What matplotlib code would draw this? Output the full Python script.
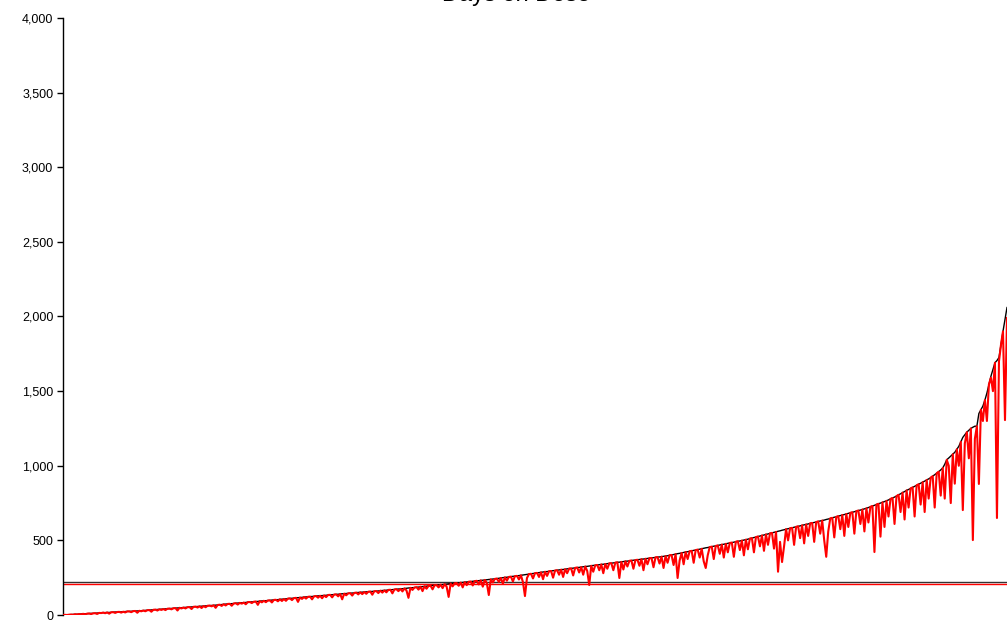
import matplotlib
matplotlib.use("Agg")
import matplotlib.pyplot as plt
from matplotlib.ticker import FuncFormatter

title = "Days on Dose"

# sorted reference series (black)
black_values = [
    0, 1, 2, 2, 3, 4, 5, 5, 6, 7,
    8, 8, 9, 10, 11, 11, 12, 13, 14, 15,
    16, 16, 17, 17, 18, 19, 20, 20, 21, 21,
    22, 23, 24, 24, 25, 26, 27, 27, 28, 29,
    30, 31, 32, 33, 34, 35, 36, 37, 38, 39,
    40, 41, 42, 43, 44, 45, 46, 47, 48, 49,
    50, 51, 52, 53, 54, 55, 56, 57, 58, 59,
    60, 61, 62, 63, 64, 65, 66, 67, 69, 70,
    72, 73, 74, 75, 76, 77, 79, 80, 81, 82,
    83, 84, 86, 87, 88, 89, 90, 91, 93, 94,
    95, 96, 97, 98, 100, 101, 102, 103, 105, 106,
    107, 108, 110, 111, 112, 113, 115, 116, 117, 118,
    120, 121, 122, 123, 124, 125, 127, 128, 129, 130,
    131, 132, 134, 135, 136, 137, 138, 139, 141, 142,
    143, 144, 145, 146, 147, 148, 150, 151, 152, 153,
    154, 155, 156, 157, 158, 159, 160, 161, 163, 164,
    165, 166, 168, 169, 170, 171, 173, 174, 175, 176,
    178, 179, 181, 182, 183, 184, 186, 187, 189, 190,
    192, 193, 195, 196, 198, 199, 200, 201, 203, 204,
    206, 207, 209, 210, 212, 213, 214, 215, 217, 218,
    220, 221, 223, 224, 226, 227, 229, 230, 232, 233,
    235, 236, 238, 239, 241, 242, 244, 246, 248, 250,
    252, 253, 255, 257, 259, 260, 262, 264, 266, 268,
    270, 272, 274, 276, 278, 280, 282, 284, 286, 288,
    290, 291, 293, 295, 297, 298, 300, 302, 304, 305,
    307, 309, 311, 312, 314, 316, 318, 319, 321, 323,
    325, 326, 328, 330, 332, 333, 335, 337, 339, 340,
    342, 344, 346, 347, 349, 351, 353, 354, 356, 358,
    360, 361, 363, 365, 367, 368, 370, 372, 374, 375,
    377, 379, 381, 382, 384, 386, 388, 389, 391, 393,
    395, 397, 400, 402, 405, 408, 411, 413, 416, 419,
    422, 424, 427, 430, 433, 435, 438, 441, 444, 447,
    450, 452, 455, 458, 461, 463, 466, 469, 472, 474,
    477, 480, 483, 485, 488, 491, 494, 496, 499, 502,
    505, 508, 512, 515, 519, 522, 526, 529, 533, 536,
    540, 543, 547, 550, 554, 557, 561, 564, 568, 571,
    575, 578, 581, 584, 588, 591, 594, 597, 601, 604,
    607, 610, 614, 617, 620, 623, 627, 630, 633, 636,
    640, 643, 647, 651, 655, 658, 662, 666, 670, 673,
    677, 681, 685, 688, 692, 696, 700, 703, 707, 711,
    715, 720, 725, 730, 735, 740, 745, 750, 755, 760,
    765, 771, 778, 784, 790, 797, 805, 812, 820, 827,
    835, 841, 848, 855, 862, 869, 876, 883, 890, 897,
    905, 912, 920, 930, 940, 950, 960, 972, 985, 1010,
    1040, 1052, 1065, 1077, 1090, 1110, 1130, 1160, 1190, 1208,
    1225, 1238, 1250, 1258, 1265, 1265, 1350, 1375, 1400, 1440,
    1487, 1545, 1600, 1645, 1690, 1705, 1725, 1810, 1900, 1980,
    2060,
]

# observed series (red)
red_values = [
    0, 1, 0, 2, 3, 1, 5, 3, 6, 4,
    8, 4, 9, 10, 6, 11, 12, 7, 14, 13,
    16, 12, 17, 9, 18, 19, 14, 20, 21, 16,
    22, 17, 24, 24, 19, 26, 27, 15, 28, 25,
    30, 25, 32, 33, 22, 35, 36, 30, 38, 34,
    40, 33, 42, 43, 38, 45, 46, 30, 48, 44,
    50, 44, 52, 53, 40, 55, 56, 50, 58, 47,
    60, 52, 62, 63, 58, 65, 48, 67, 69, 61,
    72, 64, 74, 75, 62, 77, 79, 70, 81, 76,
    83, 72, 86, 87, 80, 89, 90, 68, 93, 85,
    95, 86, 97, 98, 84, 101, 102, 92, 105, 94,
    107, 95, 110, 111, 100, 113, 115, 88, 117, 108,
    120, 110, 122, 123, 105, 125, 127, 116, 129, 112,
    131, 120, 134, 135, 118, 137, 138, 125, 141, 105,
    143, 132, 145, 146, 130, 148, 150, 138, 152, 140,
    154, 142, 156, 157, 136, 159, 160, 147, 163, 150,
    165, 152, 168, 169, 145, 171, 173, 160, 175, 158,
    178, 165, 115, 182, 168, 184, 186, 170, 189, 160,
    192, 176, 195, 196, 172, 199, 200, 185, 203, 180,
    206, 190, 121, 210, 192, 213, 214, 196, 217, 185,
    220, 200, 223, 224, 198, 227, 229, 205, 232, 190,
    235, 215, 134, 239, 218, 242, 244, 222, 248, 210,
    252, 230, 255, 257, 225, 260, 262, 238, 266, 220,
    127, 248, 274, 276, 245, 280, 282, 255, 286, 240,
    290, 262, 293, 295, 250, 298, 300, 270, 304, 255,
    307, 280, 311, 312, 265, 316, 318, 285, 321, 270,
    325, 295, 201, 330, 290, 333, 335, 300, 339, 280,
    342, 310, 346, 347, 300, 351, 353, 248, 356, 305,
    360, 325, 363, 365, 310, 368, 370, 330, 374, 300,
    377, 340, 381, 382, 320, 386, 388, 345, 391, 315,
    395, 350, 400, 402, 335, 408, 248, 365, 416, 340,
    422, 375, 427, 430, 350, 435, 438, 385, 444, 360,
    315, 400, 455, 458, 375, 463, 466, 410, 472, 385,
    477, 420, 483, 485, 390, 491, 494, 435, 499, 400,
    505, 440, 512, 515, 420, 522, 526, 460, 533, 430,
    540, 470, 547, 550, 445, 557, 290, 490, 355, 460,
    575, 500, 581, 584, 470, 591, 594, 515, 601, 480,
    607, 530, 614, 617, 490, 623, 627, 545, 633, 500,
    390, 560, 647, 651, 520, 658, 662, 575, 670, 530,
    677, 590, 685, 688, 545, 696, 700, 610, 707, 560,
    715, 620, 725, 730, 422, 740, 745, 525, 755, 590,
    765, 660, 778, 784, 610, 797, 805, 690, 820, 640,
    835, 720, 848, 855, 660, 869, 876, 740, 890, 690,
    905, 780, 920, 930, 720, 950, 960, 800, 985, 780,
    1040, 1000, 750, 1077, 880, 1110, 1000, 1160, 703, 1150,
    1225, 1050, 1250, 502, 1180, 1265, 878, 1375, 1300, 1440,
    1300, 1545, 1590, 1500, 1690, 650, 1700, 1810, 1900, 1306,
    1990,
]

black_mean = 223
red_mean = 205

y_ticks = [0, 500, 1000, 1500, 2000, 2500, 3000, 3500, 4000]

plt.rcParams['font.family'] = ['Liberation Sans', 'DejaVu Sans']

fig = plt.figure(figsize=(10.07, 6.21), dpi=100)
ax = fig.add_axes([63 / 1007, 1 - 615 / 621, 1 - 63 / 1007, (615 - 18) / 621])

x = list(range(len(black_values)))
ax.plot(x, black_values, color='black', lw=1.0, zorder=2)
ax.plot(x, red_values, color='#ff0000', lw=1.5, zorder=3)
ax.axhline(black_mean, color='#333333', lw=1.0, zorder=1)
ax.axhline(red_mean, color='#ff0000', lw=1.0, zorder=1)

ax.set_xlim(0, len(black_values) - 1)
ax.set_ylim(0, 4000)
ax.set_yticks(y_ticks)
ax.yaxis.set_major_formatter(FuncFormatter(lambda v, p: f"{int(v):,}"))
ax.set_xticks([])
for s in ['top', 'right', 'bottom']:
    ax.spines[s].set_visible(False)
ax.spines['left'].set_linewidth(1.0)
ax.tick_params(axis='y', direction='out', length=4, width=1, labelsize=9, pad=3)

fig.text(516 / 1007, 1 - 1.5 / 621, title, ha='center', va='baseline', fontsize=17)

fig.savefig('out.png', dpi=100)
